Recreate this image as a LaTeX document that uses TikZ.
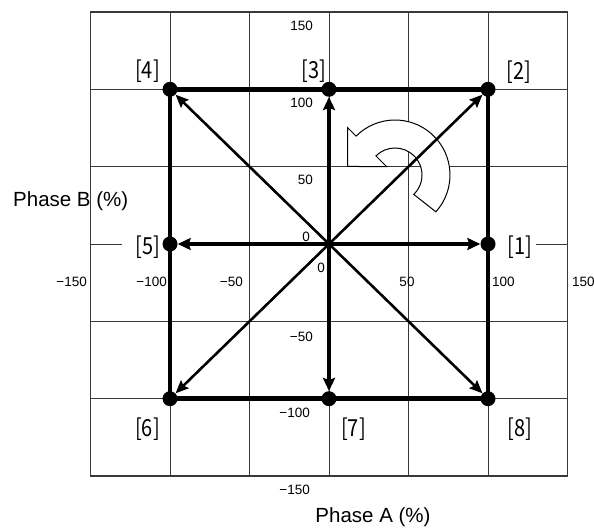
\documentclass[tikz,border=0pt]{standalone}
\usepackage{fontspec}
\setmainfont{Liberation Sans}
\newfontfamily\lblfont[FakeStretch=0.85]{Noto Sans CJK JP}
\usetikzlibrary{arrows.meta,calc}
\begin{document}
\begin{tikzpicture}[x=1pt,y=1pt,
  gridline/.style={black!78, line width=0.9pt},
  frame/.style={black!78, line width=1.2pt},
  tick/.style={font=\fontsize{13.5}{14}\selectfont, inner sep=0pt},
  axlabel/.style={font=\fontsize{20.5}{22}\selectfont, inner sep=0pt},
  ptlabel/.style={font=\lblfont\fontsize{23.5}{25}\selectfont, inner sep=0pt},
  dot/.style={circle, fill=black, minimum size=15pt, inner sep=0pt},
  edgeline/.style={line width=4.8pt, line join=miter},
  mainarrow/.style={line width=4pt, -{Stealth[length=13pt,width=12pt,inset=2pt]}},
  diagarrow/.style={line width=2.6pt, -{Stealth[length=13pt,width=11pt,inset=2pt]}},
  rotarrow/.style={draw=black, fill=white, line width=1pt, line join=miter}
]
\useasboundingbox (0,0) rectangle (594,530);
% grid
\begin{scope}[shift={(329pt,286pt)}, x=1.59pt, y=1.547pt]
  \foreach \v in {-100,-50,0,50,100} \draw[gridline] (\v,-150) -- (\v,150);
  \foreach \v in {-100,-50,50,100} \draw[gridline] (-150,\v) -- (150,\v);
  \draw[gridline] (-150,0) -- (-130,0);
  \draw[gridline] (130,0) -- (150,0);
  \draw[frame] (-150,-150) rectangle (150,150);
\end{scope}
% rotation arrow
\coordinate (rc) at (395,355);
\coordinate (rtip) at (347.7,363.5);
\draw[rotarrow] ($(rc)+(-42:55)$) arc[start angle=-42,end angle=135,radius=55]
  -- ($(rc)+(135:67)$) -- (rtip) -- ($(rc)+(135:12)$) -- ($(rc)+(135:27)$)
  arc[start angle=135,end angle=-46,radius=27] -- cycle;
% points
\begin{scope}[shift={(329pt,286pt)}, x=1.59pt, y=1.547pt]
  \coordinate (O) at (0,0);
  \node[dot] (p1) at (100,0) {};
  \node[dot] (p2) at (100,100) {};
  \node[dot] (p3) at (0,100) {};
  \node[dot] (p4) at (-100,100) {};
  \node[dot] (p5) at (-100,0) {};
  \node[dot] (p6) at (-100,-100) {};
  \node[dot] (p7) at (0,-100) {};
  \node[dot] (p8) at (100,-100) {};
\end{scope}
\draw[edgeline] (p4.center) -- (p2.center) -- (p8.center) -- (p6.center) -- cycle;
\draw[mainarrow] (O) -- (p1);
\draw[mainarrow] (O) -- (p3);
\draw[mainarrow] (O) -- (p5);
\draw[mainarrow] (O) -- (p7);
\draw[diagarrow] (O) -- (p2);
\draw[diagarrow] (O) -- (p4);
\draw[diagarrow] (O) -- (p6);
\draw[diagarrow] (O) -- (p8);
% point labels
\node[ptlabel] (l1) at (520,283) {[1]};
\node[ptlabel] (l2) at (519,458) {[2]};
\node[ptlabel] (l3) at (314,459) {[3]};
\node[ptlabel] (l4) at (147.5,459) {[4]};
\node[ptlabel] (l5) at (148,283) {[5]};
\node[ptlabel] (l6) at (147.5,101) {[6]};
\node[ptlabel] (l7) at (353.5,101) {[7]};
\node[ptlabel] (l8) at (520,101) {[8]};
% y tick labels
\node[tick, anchor=east] (y150) at (313,504) {150};
\node[tick, anchor=east] (y100) at (313,427) {100};
\node[tick, anchor=east] (y50) at (313,350) {50};
\node[tick, anchor=east] (y0) at (310,293) {0};
\node[tick, anchor=east] (ym50) at (313,193) {−50};
\node[tick, anchor=east] (ym100) at (310,117) {−100};
\node[tick, anchor=east] (ym150) at (310,40) {−150};
% x tick labels
\node[tick, anchor=east] (xm150) at (87,248) {−150};
\node[tick, anchor=east] (xm100) at (167,248) {−100};
\node[tick, anchor=east] (xm50) at (243,248) {−50};
\node[tick] (x0) at (321,262) {0};
\node[tick] (x50) at (407,248) {50};
\node[tick, anchor=west] (x100) at (492,248) {100};
\node[tick, anchor=west] (x150) at (572,248) {150};
% axis titles
\node[axlabel, anchor=west] (phb) at (13,329) {Phase B (\%)};
\node[axlabel] (pha) at (373,13) {Phase A (\%)};
\end{tikzpicture}
\end{document}
